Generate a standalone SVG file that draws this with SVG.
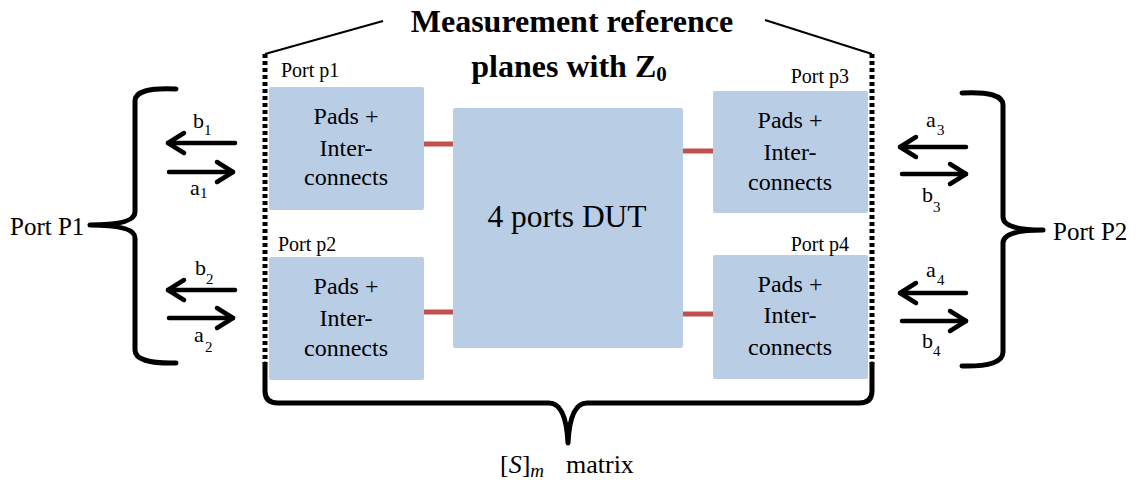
<svg xmlns="http://www.w3.org/2000/svg" width="1138" height="488" viewBox="0 0 1138 488">
<style>
text{font-family:'Liberation Serif','Times New Roman','DejaVu Serif',serif;fill:#000}
.box{fill:#B9CDE5}
.lbl{font-size:24px;text-anchor:middle}
.port{font-size:20px}
.big{font-size:25px}
.wave{font-size:22px}
.sub{font-size:15px}
.title{font-size:32px;font-weight:bold;text-anchor:middle}
.red{stroke:#C0504D;stroke-width:5;fill:none}
.arr{stroke:#000;stroke-width:4.5;fill:none;stroke-linecap:round;marker-end:url(#head)}
.brace{stroke:#000;stroke-width:5;fill:none;stroke-linecap:round;stroke-linejoin:round}
.dot{stroke:#000;stroke-width:5;fill:none;stroke-dasharray:4 3}
.thin{stroke:#000;stroke-width:2;fill:none}
</style>
<defs>
<marker id="head" viewBox="-22 -14 26 28" refX="0" refY="0" markerWidth="26" markerHeight="28" markerUnits="userSpaceOnUse" orient="auto">
<path d="M-16,-10 L0,0 L-16,10" fill="none" stroke="#000" stroke-width="4.5" stroke-linecap="round" stroke-linejoin="round"/>
</marker>
</defs>

<g id="title">
<text class="title" x="572" y="32">Measurement reference</text>
<text class="title" x="569" y="77">planes with Z<tspan font-size="21" dy="4">0</tspan></text>
</g>

<g id="reference-planes">
<line class="thin" x1="265" y1="54" x2="383" y2="21"/>
<line class="thin" x1="765" y1="20" x2="872" y2="54"/>
<line class="dot" x1="265" y1="54" x2="265" y2="364"/>
<line class="dot" x1="872" y1="54" x2="872" y2="364"/>
</g>

<g id="connectors">
<line class="red" x1="424" y1="144" x2="454" y2="144"/>
<line class="red" x1="424" y1="312" x2="454" y2="312"/>
<line class="red" x1="681" y1="151" x2="714" y2="151"/>
<line class="red" x1="681" y1="314" x2="714" y2="314"/>
<line class="arr" x1="235" y1="143" x2="168" y2="143"/>
<line class="arr" x1="169" y1="172" x2="233" y2="172"/>
<line class="arr" x1="235" y1="290" x2="168" y2="290"/>
<line class="arr" x1="169" y1="318" x2="233" y2="318"/>
<line class="arr" x1="966" y1="147" x2="900" y2="147"/>
<line class="arr" x1="902" y1="174" x2="966" y2="174"/>
<line class="arr" x1="966" y1="293" x2="900" y2="293"/>
<line class="arr" x1="902" y1="321" x2="966" y2="321"/>
</g>

<g id="p1">
<rect class="box" x="269" y="87" width="155" height="123" rx="2"/>
<text class="port" x="281" y="77">Port p1</text>
<text class="lbl" x="346" y="124">Pads +</text>
<text class="lbl" x="346" y="156">Inter-</text>
<text class="lbl" x="346" y="185">connects</text>
</g>
<g id="p2">
<rect class="box" x="269" y="257" width="155" height="123" rx="2"/>
<text class="port" x="278" y="251">Port p2</text>
<text class="lbl" x="346" y="294">Pads +</text>
<text class="lbl" x="346" y="326">Inter-</text>
<text class="lbl" x="346" y="356">connects</text>
</g>
<g id="p3">
<rect class="box" x="713" y="91" width="155" height="122" rx="2"/>
<text class="port" x="849" y="83" text-anchor="end">Port p3</text>
<text class="lbl" x="790" y="128">Pads +</text>
<text class="lbl" x="790" y="160">Inter-</text>
<text class="lbl" x="790" y="190">connects</text>
</g>
<g id="p4">
<rect class="box" x="713" y="255" width="155" height="124" rx="2"/>
<text class="port" x="849" y="251" text-anchor="end">Port p4</text>
<text class="lbl" x="790" y="292">Pads +</text>
<text class="lbl" x="790" y="323">Inter-</text>
<text class="lbl" x="790" y="355">connects</text>
</g>
<g id="dut">
<rect class="box" x="453" y="108" width="230" height="240" rx="2"/>
<text x="567" y="227" font-size="31.5" text-anchor="middle">4 ports DUT</text>
</g>

<g id="waves">
<text class="wave" x="193" y="128">b</text><text class="sub" x="204" y="135">1</text>
<text class="wave" x="190" y="195">a</text><text class="sub" x="200" y="198">1</text>
<text class="wave" x="195" y="275">b</text><text class="sub" x="206" y="284">2</text>
<text class="wave" x="194" y="342">a</text><text class="sub" x="205" y="352">2</text>
<text class="wave" x="926" y="127">a</text><text class="sub" x="937" y="135">3</text>
<text class="wave" x="922" y="202">b</text><text class="sub" x="933" y="212">3</text>
<text class="wave" x="926" y="277">a</text><text class="sub" x="937" y="285">4</text>
<text class="wave" x="922" y="348">b</text><text class="sub" x="933" y="356">4</text>
</g>

<g id="port-P1">
<path class="brace" d="M176,89 Q135,87 135,101 L135,212 Q135,225 90,225 Q135,225 135,238 L135,350 Q135,364 176,363"/>
<text class="big" x="10" y="235">Port P1</text>
</g>
<g id="port-P2">
<path class="brace" d="M962,93 Q1003,91 1003,105 L1003,217 Q1003,230 1043,230 Q1003,230 1003,243 L1003,352 Q1003,367 962,366"/>
<text class="big" x="1053" y="240">Port P2</text>
</g>
<g id="s-matrix">
<path class="brace" d="M265,364 L265,391 Q265,403 278,403 L549,403 Q566,403 568,443 M872,364 L872,391 Q872,403 859,403 L587,403 Q570,403 568,443"/>
<text x="500" y="473" font-size="26">[<tspan font-style="italic">S</tspan>]<tspan font-style="italic" font-size="19" dy="4">m</tspan><tspan x="566" dy="-4">matrix</tspan></text>
</g>
</svg>
